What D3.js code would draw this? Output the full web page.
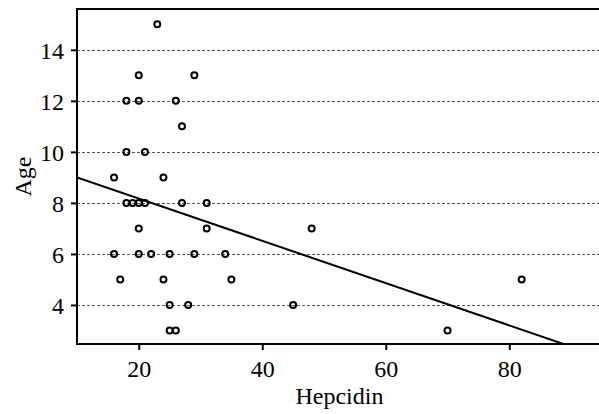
<!DOCTYPE html>
<html>
<head>
<meta charset="utf-8">
<script src="https://cdn.jsdelivr.net/npm/d3@7"></script>
<style>
  body { margin: 0; background: #fff; }
  svg { display: block; }
  svg text { font-family: "Liberation Serif", "Times New Roman", serif; fill: #000; }
</style>
</head>
<body>
<svg id="chart" width="599" height="414"></svg>
<script>
// data
var hepcidin = [23, 20, 29, 18, 20, 26, 27, 18, 21, 16, 24,
                18, 19, 20, 21, 27, 31, 20, 31, 48,
                16, 20, 22, 25, 29, 34, 17, 24, 35, 82,
                25, 28, 45, 25, 26, 70];
var age = [15, 13, 13, 12, 12, 12, 11, 10, 10, 9, 9,
           8, 8, 8, 8, 8, 8, 7, 7, 7,
           6, 6, 6, 6, 6, 6, 5, 5, 5, 5,
           4, 4, 4, 3, 3, 3];
var xTicks = [20, 40, 60, 80];
var yTicks = [4, 6, 8, 10, 12, 14];
// fitted line, age = a + b * hepcidin
var fitA = 9.83, fitB = -0.0829;

var margin = {top: 9, left: 77, bottom: 70};
var W = 599, H = 414;
var plotH = H - margin.top - margin.bottom;

var x = d3.scaleLinear().domain([10, 95.5]).range([margin.left, 605]);
var y = d3.scaleLinear().domain([2.47, 15.6]).range([H - margin.bottom, margin.top]);

var svg = d3.select("#chart");

svg.append("clipPath").attr("id", "clip")
  .append("rect")
  .attr("x", margin.left).attr("y", margin.top)
  .attr("width", 605 - margin.left).attr("height", plotH);

// grid
svg.append("g").selectAll("line")
  .data(yTicks).enter().append("line")
  .attr("x1", margin.left).attr("x2", W)
  .attr("y1", function(d) { return Math.round(y(d)) + 0.5; })
  .attr("y2", function(d) { return Math.round(y(d)) + 0.5; })
  .attr("stroke", "#555")
  .attr("stroke-width", 1)
  .attr("stroke-dasharray", "3,2");

// fit line
svg.append("line")
  .attr("clip-path", "url(#clip)")
  .attr("x1", x(10)).attr("y1", y(fitA + fitB * 10))
  .attr("x2", x(95)).attr("y2", y(fitA + fitB * 95))
  .attr("stroke", "#000")
  .attr("stroke-width", 2);

// points
svg.append("g").selectAll("circle")
  .data(hepcidin).enter().append("circle")
  .attr("cx", function(d) { return x(d); })
  .attr("cy", function(d, i) { return y(age[i]); })
  .attr("r", 3)
  .attr("fill", "none")
  .attr("stroke", "#000")
  .attr("stroke-width", 2);

// frame
svg.append("rect")
  .attr("x", margin.left).attr("y", margin.top)
  .attr("width", 605 - margin.left).attr("height", plotH)
  .attr("fill", "none")
  .attr("stroke", "#000")
  .attr("stroke-width", 2);

// axes
var xAxis = svg.append("g")
  .attr("transform", "translate(0," + (H - margin.bottom) + ")")
  .call(d3.axisBottom(x).tickValues(xTicks).tickSize(6).tickSizeOuter(0));
var yAxis = svg.append("g")
  .attr("transform", "translate(" + margin.left + ",0)")
  .call(d3.axisLeft(y).tickValues(yTicks).tickSize(6).tickSizeOuter(0));

[xAxis, yAxis].forEach(function(g) {
  g.attr("font-family", null).attr("font-size", null);
  g.select(".domain").remove();
  g.selectAll(".tick line").attr("stroke", "#000").attr("stroke-width", 2);
  g.selectAll(".tick text").style("font-size", "24px");
});
xAxis.selectAll(".tick text").attr("y", 33).attr("dy", 0);
yAxis.selectAll(".tick text").attr("x", -13).attr("dy", "0.35em");

// titles
svg.append("text")
  .attr("x", x(52.5)).attr("y", 404)
  .attr("text-anchor", "middle")
  .style("font-size", "24px")
  .text("Hepcidin");

svg.append("text")
  .attr("transform", "translate(31," + (margin.top + plotH / 2) + ") rotate(-90)")
  .attr("text-anchor", "middle")
  .style("font-size", "24px")
  .text("Age");
</script>
</body>
</html>
